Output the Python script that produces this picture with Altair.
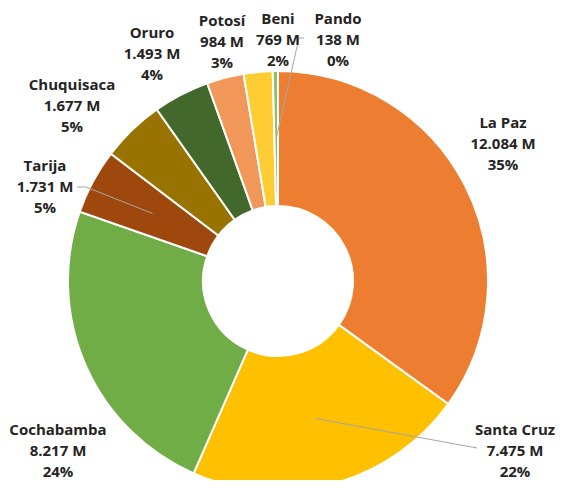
import math
import altair as alt
import pandas as pd

# ---- data ----
departments = ["La Paz", "Santa Cruz", "Cochabamba", "Tarija", "Chuquisaca",
               "Oruro", "Potosí", "Beni", "Pando"]
values = [12084, 7475, 8217, 1731, 1677, 1493, 984, 769, 138]  # millions
colors = ["#ED7D31", "#FFC000", "#70AD47", "#9E480E", "#997300",
          "#43682B", "#F1975A", "#FFCD33", "#8CC168"]

# ---- layout (chart coordinates, page minus 8px margin) ----
W, H = 548, 472
CX, CY = 270, 273
R_OUT, R_IN = 210, 75
# position of the first line of each label
label_xy = {
    "La Paz": (495, 115), "Santa Cruz": (507, 422), "Cochabamba": (50, 422),
    "Tarija": (37, 158), "Chuquisaca": (64, 77), "Oruro": (144, 25),
    "Potosí": (214, 13), "Beni": (270, 11), "Pando": (330, 11),
}
# extra leader-line points (from label side), per labelled slice
leader_pts = {
    "Santa Cruz": [(469, 440)],
    "Tarija": [(78, 179), (69, 179)],
    "Pando": [(291, 30), (296, 30)],
}

def fmt_m(v):
    return f"{v:,}".replace(",", ".") + " M"

total = sum(values)
rows, lab_rows, line_rows = [], [], []
cum = 0.0
for i, (d, v) in enumerate(zip(departments, values)):
    frac = v / total
    mid = (cum + frac / 2) * 2 * math.pi
    cum += frac
    rows.append({"dept": d, "value": v, "idx": i})
    lx, ly = label_xy[d]
    lab_rows.append({"dept": d, "lx": lx, "ly": ly,
                     "label": f"{d}\n{fmt_m(v)}\n{round(frac * 100)}%"})
    if d in leader_pts:
        r = (R_IN + R_OUT) / 2
        cx = CX + r * math.sin(mid)
        cy = CY - r * math.cos(mid)
        pts = [(cx, cy)] + leader_pts[d]
        for k, (px, py) in enumerate(pts):
            line_rows.append({"dept": d, "o": k, "x": px, "y": py})

df = pd.DataFrame(rows)
labels = pd.DataFrame(lab_rows)
lines = pd.DataFrame(line_rows)

arcs = alt.Chart(df).mark_arc(
    innerRadius=R_IN, outerRadius=R_OUT, stroke="white", strokeWidth=2
).encode(
    theta=alt.Theta("value:Q", stack=True),
    order=alt.Order("idx:Q"),
    color=alt.Color("dept:N", scale=alt.Scale(domain=departments, range=colors), legend=None),
    x=alt.value(CX),
    y=alt.value(CY),
)

leaders = alt.Chart(lines).mark_line(color="#A6A6A6", strokeWidth=1).encode(
    x=alt.X("x:Q", scale=None, axis=None),
    y=alt.Y("y:Q", scale=None, axis=None),
    detail="dept:N",
    order="o:Q",
)

texts = alt.Chart(labels).mark_text(
    font="Open Sans", fontWeight="bold", fontSize=15, lineHeight=21,
    color="#252423", align="center", baseline="middle", lineBreak="\n"
).encode(
    x=alt.X("lx:Q", scale=None, axis=None),
    y=alt.Y("ly:Q", scale=None, axis=None),
    text="label:N",
)

chart = alt.layer(arcs, leaders, texts).properties(
    width=W, height=H,
    autosize=alt.AutoSizeParams(type="none"),
    padding=0,
    background="white",
).configure_view(stroke=None)

chart.save("out.html", embed_options={"renderer": "svg", "actions": False})
